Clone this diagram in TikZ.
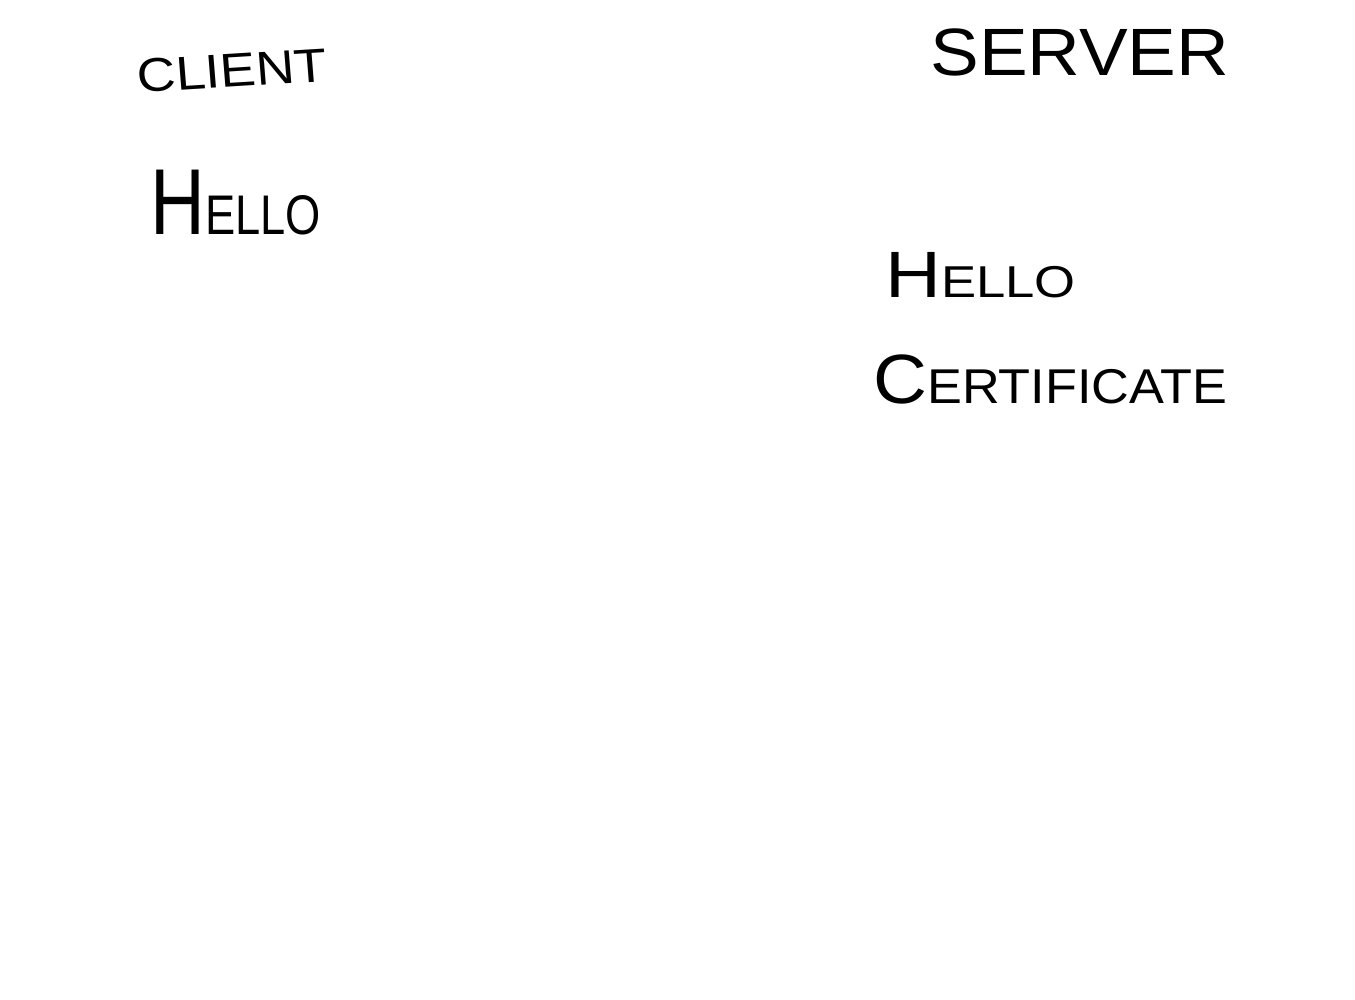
\documentclass[tikz,border=0pt]{standalone}
\usepackage{fontspec}
\setmainfont{Liberation Sans}
% two-size capitals: a tall initial and smaller trailing letters
\newcommand{\capsz}[2]{{\fontsize{#1}{#1}\selectfont #2}}
\begin{document}
\begin{tikzpicture}[x=0.02cm,y=-0.02cm,
  label/.style={anchor=base west, inner sep=0pt, text=black}]
  \useasboundingbox[fill=white] (0,0) rectangle (1355,1000);
  % column headings
  \node[label, xscale=1.13, rotate=4] (client) at (138,93) {\capsz{27pt}{CLIENT}};
  \node[label, xscale=1.09] (server) at (930,76) {\capsz{38.1pt}{SERVER}};
  % client message
  \node[label, xscale=0.81] (chello) at (150,235) {\capsz{53.3pt}{H}\capsz{31.8pt}{ELLO}};
  % server messages
  \node[label, xscale=1.18] (shello) at (885,297) {\capsz{37.3pt}{H}\capsz{25.4pt}{ELLO}};
  \node[label, xscale=1.07] (cert) at (873,403) {\capsz{39.7pt}{C}\capsz{27.8pt}{ERTIFICATE}};
\end{tikzpicture}
\end{document}
